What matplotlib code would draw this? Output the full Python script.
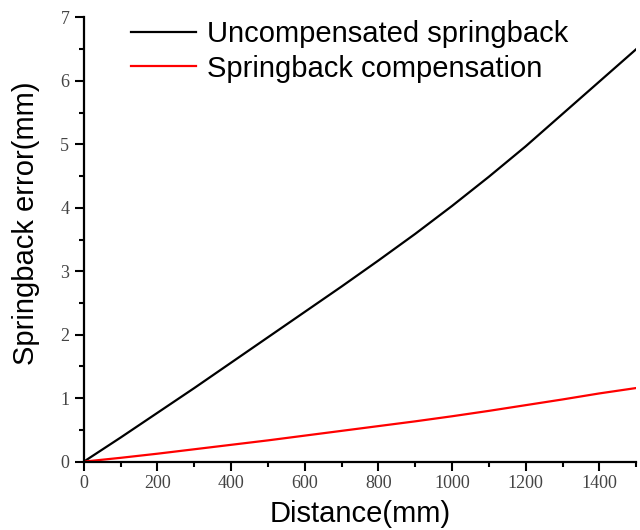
import matplotlib
matplotlib.use("Agg")
import matplotlib.pyplot as plt
from matplotlib.ticker import MultipleLocator

distance = [0, 100, 200, 300, 400, 500, 600, 700, 800, 900, 1000, 1100, 1200, 1300, 1400, 1500]
uncompensated = [0, 0.38, 0.77, 1.16, 1.56, 1.96, 2.36, 2.76, 3.17, 3.59, 4.03, 4.49, 4.97, 5.48, 5.99, 6.5]
compensated = [0, 0.06, 0.125, 0.195, 0.265, 0.335, 0.41, 0.485, 0.56, 0.635, 0.715, 0.80, 0.89, 0.98, 1.075, 1.16]

label_unc = "Uncompensated springback"
label_comp = "Springback compensation"
xlabel = "Distance(mm)"
ylabel = "Springback error(mm)"

fig = plt.figure(figsize=(6.4, 5.3), dpi=100)
ax = fig.add_axes([0.131, 0.129, 0.863, 0.838])

ax.plot(distance, uncompensated, color="black", lw=1.6, label=label_unc)
ax.plot(distance, compensated, color="red", lw=1.6, label=label_comp)

ax.set_xlim(0, 1500)
ax.set_ylim(0, 7)
ax.xaxis.set_major_locator(MultipleLocator(200))
ax.xaxis.set_minor_locator(MultipleLocator(100))
ax.yaxis.set_major_locator(MultipleLocator(1))
ax.yaxis.set_minor_locator(MultipleLocator(0.5))

for s in ["top", "right"]:
    ax.spines[s].set_visible(False)
for s in ["left", "bottom"]:
    ax.spines[s].set_linewidth(1.6)

ax.tick_params(which="major", direction="out", length=6.5, width=1.5, labelsize=13,
               labelcolor="#444444")
ax.tick_params(axis="x", which="major", pad=3)
ax.tick_params(axis="y", which="major", pad=4)
ax.tick_params(which="minor", direction="out", length=3.5, width=1.5)
for lbl in ax.get_xticklabels() + ax.get_yticklabels():
    lbl.set_fontfamily("Liberation Serif")

ax.set_xlabel(xlabel, fontsize=21, family="Liberation Sans")
ax.set_ylabel(ylabel, fontsize=21, family="Liberation Sans")
ax.xaxis.set_label_coords(0.5, -0.087)
ax.yaxis.set_label_coords(-0.08, 0.536)

leg = ax.legend(loc="upper left", bbox_to_anchor=(0.085, 0.994), frameon=False,
                prop={"family": "Liberation Sans", "size": 21},
                handlelength=2.25, handletextpad=0.35, labelspacing=0.22,
                borderpad=0, borderaxespad=0)

fig.savefig("out.png", dpi=100)
